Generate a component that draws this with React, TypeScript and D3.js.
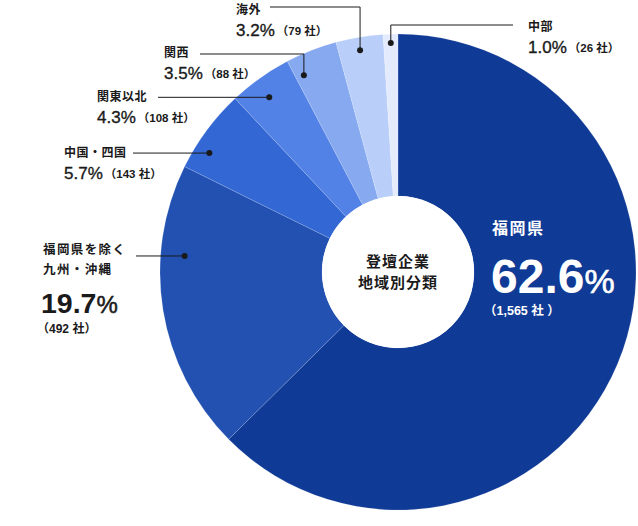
import { useEffect } from "react";
import * as d3 from "d3";

// 登壇企業 地域別分類
const categories = ["福岡県", "福岡県を除く九州・沖縄", "中国・四国", "関東以北", "関西", "海外", "中部"];
const shares = [62.6, 19.7, 5.7, 4.3, 3.5, 3.2, 1.0];
const companies = [1565, 492, 143, 108, 88, 79, 26];
const palette = ["#0f3a95", "#2251b2", "#3367d3", "#5382e6", "#87a9ef", "#b9cffa", "#e3ebfd"];

const width = 638,
  height = 526;
const cx = 398,
  cy = 272,
  outerR = 238,
  innerR = 76;

const FONT = '"Liberation Sans", Arial, "Noto Sans CJK JP", sans-serif';
const INK = "#1a1a1a";

// where each leader starts inside its slice (t = share of the slice's angle)
// and where its label sits
type Leader = {
  i: number;
  t: number;
  r: number;
  lineY?: number;
  lineX: number;
  textX: number;
  nameY: number;
};
const leaders: Leader[] = [
  { i: 6, t: 0.5, r: 229, lineY: 25, lineX: 513, textX: 528, nameY: 27 },
  { i: 5, t: 0.47, r: 225, lineY: 7, lineX: 270, textX: 236, nameY: 10 },
  { i: 4, t: 0.17, r: 218, lineY: 54, lineX: 200, textX: 164, nameY: 53 },
  { i: 3, t: 0.44, r: 217, lineX: 158, textX: 97, nameY: 97 },
  { i: 2, t: 0.29, r: 223, lineX: 133, textX: 64, nameY: 153 },
];

const fmt = d3.format(",");

export default function App() {
  useEffect(() => {
    document.body.style.margin = "0";
  }, []);

  const slices = d3.pie<number>().sort(null).value((d) => d)(shares);
  const arc = d3
    .arc<d3.PieArcDatum<number>>()
    .innerRadius(innerR)
    .outerRadius(outerR);

  const pointIn = (i: number, t: number, r: number) => {
    const s = slices[i];
    const a = s.startAngle + t * (s.endAngle - s.startAngle);
    return [cx + r * Math.sin(a), cy - r * Math.cos(a)];
  };

  const kyushuDot = pointIn(1, 0.69, 214);

  return (
    <svg width={width} height={height} style={{ display: "block", fontFamily: FONT }}>
      <g transform={`translate(${cx},${cy})`}>
        {slices.map((s, i) => (
          <path
            key={categories[i]}
            d={arc(s) || ""}
            fill={palette[i]}
            stroke="rgba(255,255,255,0.18)"
            strokeWidth={0.8}
          />
        ))}
        <circle r={innerR} fill="#fff" />
        <text textAnchor="middle" fill={INK} fontSize={15} fontWeight="bold" letterSpacing={1}>
          <tspan x={0} y={-11} dominantBaseline="central">登壇企業</tspan>
          <tspan x={0} y={10} dominantBaseline="central">地域別分類</tspan>
        </text>
      </g>

      {/* 福岡県 inside its slice */}
      <g fill="#fff" fontWeight="bold">
        <text x={492} y={228} fontSize={16} letterSpacing={1.5} dominantBaseline="central">
          {categories[0]}
        </text>
        <text x={491} y={293}>
          <tspan fontSize={48}>{shares[0].toFixed(1)}</tspan>
          <tspan fontSize={34} fontWeight="normal" stroke="#fff" strokeWidth={0.6}>%</tspan>
        </text>
        <text x={484} y={311} fontSize={12.5} dominantBaseline="central">
          （{fmt(companies[0])} 社 ）
        </text>
      </g>

      {/* 九州・沖縄 */}
      <g fill={INK}>
        <path
          d={`M${kyushuDot[0]},${kyushuDot[1]}H136`}
          stroke={INK}
          strokeWidth={1}
          fill="none"
        />
        <circle cx={kyushuDot[0]} cy={kyushuDot[1]} r={3} />
        <text fontSize={12.5} fontWeight="bold" letterSpacing={1.4}>
          <tspan x={43} y={250} dominantBaseline="central">福岡県を除く</tspan>
          <tspan x={43} y={270} dominantBaseline="central">九州・沖縄</tspan>
        </text>
        <text x={41} y={313} fontWeight="bold">
          <tspan fontSize={28.5}>{shares[1].toFixed(1)}</tspan>
          <tspan fontSize={24} fontWeight="normal" stroke={INK} strokeWidth={0.5}>%</tspan>
        </text>
        <text x={37} y={329} fontSize={12} fontWeight="bold" dominantBaseline="central">
          （{companies[1]} 社）
        </text>
      </g>

      {leaders.map((l) => {
        const [dx, dy] = pointIn(l.i, l.t, l.r);
        const path =
          l.lineY === undefined
            ? `M${dx},${dy}H${l.lineX}`
            : `M${dx},${dy}V${l.lineY}H${l.lineX}`;
        return (
          <g key={categories[l.i]} fill={INK}>
            <path d={path} stroke={INK} strokeWidth={1} fill="none" />
            <circle cx={dx} cy={dy} r={3} />
            <text
              x={l.textX}
              y={l.nameY}
              fontSize={12}
              fontWeight="bold"
              letterSpacing={0.5}
              dominantBaseline="central"
            >
              {categories[l.i]}
            </text>
            <text x={l.textX} y={l.nameY + 26}>
              <tspan fontSize={17} stroke={INK} strokeWidth={0.35}>
                {shares[l.i].toFixed(1)}%
              </tspan>
              <tspan fontSize={11.5} fontWeight="bold" dx={2} dy={-1}>
                （{companies[l.i]} 社）
              </tspan>
            </text>
          </g>
        );
      })}
    </svg>
  );
}
